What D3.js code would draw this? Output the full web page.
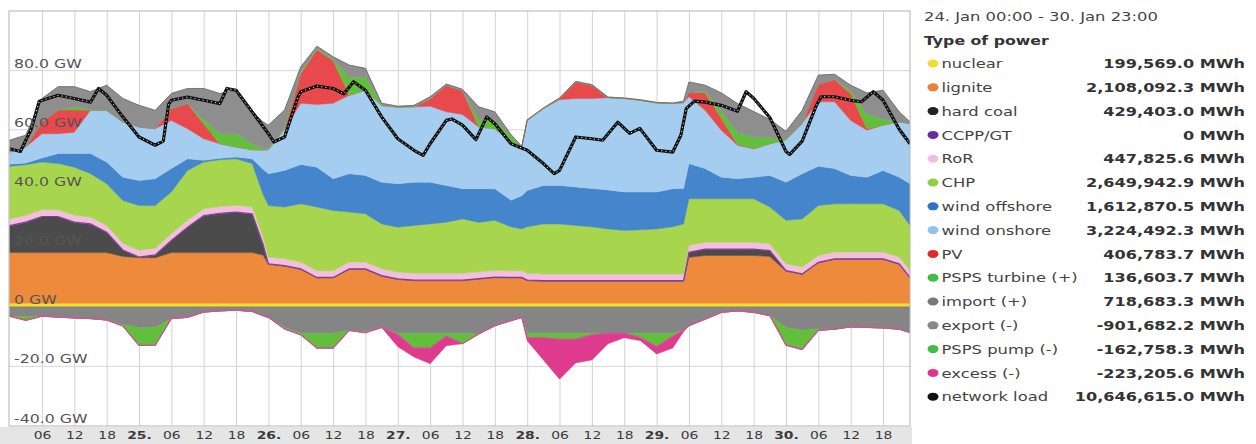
<!DOCTYPE html>
<html>
<head>
<meta charset="utf-8">
<script src="https://cdn.jsdelivr.net/npm/d3@7"></script>
<style>
  html, body { margin: 0; padding: 0; background: #fff; }
  svg { display: block; font-family: "DejaVu Sans", Verdana, sans-serif; }
</style>
</head>
<body>
<div id="chart"></div>
<script>
// hours since 24. Jan 00:00 (GW values)
const hours = [0,3,6,9,12,15,18,21,24,27,30,33,36,39,42,45,47,48,51,54,57,60,63,66,69,72,75,78,81,84,87,90,93,95,96,99,102,105,108,111,114,117,120,123,125,126,129,132,135,138,141,144,147,150,153,156,159,162,165,167];

const nuclear = [1.2,1.2,1.2,1.2,1.2,1.2,1.2,1.2,1.2,1.2,1.2,1.2,1.2,1.2,1.2,1.2,1.2,1.2,1.2,1.2,1.2,1.2,1.2,1.2,1.2,1.2,1.2,1.2,1.2,1.2,1.2,1.2,1.2,1.2,1.2,1.2,1.2,1.2,1.2,1.2,1.2,1.2,1.2,1.2,1.2,1.2,1.2,1.2,1.2,1.2,1.2,1.2,1.2,1.2,1.2,1.2,1.2,1.2,1.2,1.2];
const lignite = [17.1,17.1,17.1,17.1,17.1,17.1,17.1,15.8,15.4,15.4,17.1,17.1,17.1,17.1,17.1,17.1,16.3,13.1,12.5,11.4,8.5,8.5,11.4,11.4,9.1,8.0,7.6,7.6,7.6,7.6,8.1,8.6,8.5,8.5,7.6,7.4,7.4,7.4,7.4,7.4,7.4,7.4,7.4,7.4,7.4,15.5,16.1,16.1,16.1,16.1,15.8,10.8,9.7,13.6,14.8,14.8,14.8,14.8,13.1,8.5];
const hardCoal = [9.1,10.3,12.2,12.2,10.3,9.7,6.9,2.2,0.2,0.9,4.1,8.6,12.5,13.3,13.7,13.1,3.7,0.2,0.2,0.2,0.2,0.2,0.2,0.2,0.2,0.2,0.2,0.2,0.2,0.2,0.2,0.2,0.2,0.2,0.2,0.2,0.2,0.2,0.2,0.2,0.2,0.2,0.2,0.2,0.2,1.7,2.2,2.2,2.2,2.2,2.0,0.2,0.2,0.2,0.2,0.2,0.2,0.2,0.2,0.2];
const ccpp = [0,0,0,0,0,0,0,0,0,0,0,0,0,0,0,0,0,0,0,0,0,0,0,0,0,0,0,0,0,0,0,0,0,0,0,0,0,0,0,0,0,0,0,0,0,0,0,0,0,0,0,0,0,0,0,0,0,0,0,0];
const ror = [2.3,2.3,2.3,2.3,2.3,2.3,2.3,2.3,2.3,2.3,2.3,2.3,2.3,2.3,2.3,2.3,2.3,2.3,2.3,2.3,2.3,2.3,2.3,2.3,2.3,2.3,2.3,2.3,2.3,2.3,2.3,2.3,2.3,2.3,2.3,2.3,2.3,2.3,2.3,2.3,2.3,2.3,2.3,2.3,2.3,2.3,2.3,2.3,2.3,2.3,2.3,2.3,2.3,2.3,2.3,2.3,2.3,2.3,2.3,2.3];
const chp = [17.8,17.1,16.1,15.6,16.3,14.7,14.1,14.4,15.1,14.4,14.1,16.9,15.8,15.8,15.7,14.7,14.5,17.4,17.5,19.7,21.5,20.3,16.9,16.3,15.2,15.2,16.2,16.7,17.3,18.4,16.7,16.9,14.8,14.1,15.7,16.9,16.9,16.4,15.9,15.2,14.7,14.9,15.2,15.9,16.9,15.8,14.7,14.7,14.7,14.7,12.4,14.7,16.3,16.9,16.3,16.3,16.3,16.3,15.7,15.3];
const windOffshore = [0.7,0.6,1.4,3.4,4.6,6.8,7.3,7.9,8.5,9.1,7.9,3.9,0.6,0.5,0.6,1.6,8.5,10.8,12.4,13.3,13.5,10.8,13.0,13.0,14.1,14.7,14.6,14.1,12.4,10.2,11.4,10.7,9.0,11.2,12.3,13.0,13.0,13.0,13.0,13.2,13.0,12.8,12.5,12.9,12.0,11.9,10.2,7.3,6.8,7.3,10.7,12.9,15.3,13.3,11.9,9.6,9.0,11.3,11.3,14.1];
const windOnshore = [4.1,5.4,8.2,6.7,7.2,14.6,17.5,18.7,18.1,16.9,16.3,10.2,7.3,4.9,3.4,3.1,6.5,8.1,13.9,20.7,21.2,25.5,26.5,28.8,25.9,25.9,25.5,25.7,24.9,25.1,20.9,20.3,19.7,16.5,23.7,26.0,29.0,29.9,30.4,31.2,31.6,31.0,30.1,28.8,29.0,22.6,19.7,15.9,11.3,9.6,10.7,14.4,17.0,21.8,22.6,18.6,15.9,15.3,18.7,20.4];
const pv = [0,0,4,8,7.5,0,0,0,0,0,4,8.5,5,0,0,0,0,0,0,10,18.5,14.5,0,0,0,0,0,2.5,9,8,0,0,0,0,0,0,0.4,5.6,4.5,0,0,0,0,0,0,1.5,6,4,0.3,0,0,0,0,6,7.5,9,0.5,0,0,0];
const pspsTurbine = [0,0,0,0,1,0.3,0,0,0,0,0,0,1.5,3.4,4.5,2,0.5,0.3,0.5,0.5,0.3,0.5,6,4.5,0.2,0,0,0,0,0,2.5,3,2,0,0,0,0,0,0,0,0,0,0,0,0,0,0.5,2.5,4,4,2,0.3,0,0,0,1,5,2,0,0];
const importPlus = [4.0,4.0,7.9,7.9,6.9,6.0,8.5,7.9,7.3,6.2,5.1,5.1,10.5,13.6,14.7,10.8,9.0,8.0,6.0,1.8,0.9,0.7,4.2,2.9,0.6,0.3,0.5,0.7,0.4,0.5,4.3,2.7,0.5,0.2,0.2,0.2,0.2,0.2,0.2,0.2,0.2,0.2,0.2,0.2,0.5,3.5,2.0,6.1,9.8,8.6,6.2,2.5,4.4,3.0,1.8,1.9,7.1,9.8,3.4,0.5];
const exportMinus = [-3.2,-3.4,-3.2,-3.5,-3.8,-4,-4.5,-6,-7.1,-7.1,-4,-3.6,-1.8,-1.4,-1.2,-1.6,-3,-3.6,-7,-9,-9,-9,-8,-8.5,-7,-9,-9,-9,-9,-9,-9.2,-6.4,-4.7,-3.6,-9,-9,-9,-9,-9,-9,-9,-9,-9,-9,-8,-6.4,-4.2,-1.9,-1.4,-1.9,-3,-7,-8,-7.5,-7.6,-6.8,-7,-7.2,-7.6,-8.7];
const pspsPump = [0,-1.2,0,0,0,0,0,-0.5,-6,-6,0,0,0,0,0,0,0,0,-0.5,-0.5,-5,-5,0,-0.3,0,-0.5,-5,-5,-1,-3.5,0,0,0,0,-1.5,-1.5,-2,-2,-0.5,0,0,-1.5,-4.5,-1,0,0,0,0,0,0,0,-6,-6.5,-0.5,0,0,0,0,0,0];
const excess = [0,0,0,0,0,0,0,0,0,0,0,0,0,0,0,0,0,0,0,0,0,0,0,0,0,-4,-3,-5.3,-3.2,0,0,0,0,0,-1,-7.5,-13.5,-8,-8.5,-3.5,-1.5,-1,-2.5,-4,-0.5,0,0,0,0,0,0,0,0,0,0,0,0,0,0,0];

// network load (own time points, hours since 24. Jan 00:00)
const loadHours = [0,2,4,5.5,9,12,15,16.5,18,21,24,27,28.5,29.5,30,33,36,39,40.3,42,45,48,49,51,53.5,54,57,60,62,63.8,66,69,72,75,76.7,78,81,82,84,86.5,88.5,90,93,96,99,101,102,105,108,110,112.8,115,116.9,120,123,124.5,125.5,127,129,132,135,136.6,138,141,144,144.7,147,149.5,150.5,153,156,158,160.2,162,165,167];
const loadValues = [53.4,52.5,60,69.5,71.5,70.4,69.2,73.8,71.5,64.2,57.4,54.6,56,68.5,69.8,70.9,69.8,68.7,73.8,73.2,65.9,58.5,55.7,57.4,71,72.7,74.6,73.8,72,76.1,73.2,64.2,56.8,52.9,51.2,55.1,63,63.5,61.4,56.5,64.2,61.9,55.1,52.9,48.4,45,46.1,57.4,56.8,56.3,62.4,58.6,60.3,52.9,52.3,58,67,69.5,69.2,68.1,66.1,72.7,70.5,64,52.5,51.5,56,67.5,71,71,69.8,69.3,72.7,69.8,60,55.1];

// y axis ticks
const yTicks = [-40, -20, 0, 20, 40, 60, 80];
// x axis ticks, every 6 hours
const xTicks = [6,12,18,24,30,36,42,48,54,60,66,72,78,84,90,96,102,108,114,120,126,132,138,144,150,156,162];
const xTickLabels = ["06","12","18","25.","06","12","18","26.","06","12","18","27.","06","12","18","28.","06","12","18","29.","06","12","18","30.","06","12","18"];

// legend
const legendTitle = "24. Jan 00:00 - 30. Jan 23:00";
const legendNames = ["nuclear","lignite","hard coal","CCPP/GT","RoR","CHP","wind offshore","wind onshore","PV","PSPS turbine (+)","import (+)","export (-)","PSPS pump (-)","excess (-)","network load"];
const legendTotals = ["199,569.0 MWh","2,108,092.3 MWh","429,403.0 MWh","0 MWh","447,825.6 MWh","2,649,942.9 MWh","1,612,870.5 MWh","3,224,492.3 MWh","406,783.7 MWh","136,603.7 MWh","718,683.3 MWh","-901,682.2 MWh","-162,758.3 MWh","-223,205.6 MWh","10,646,615.0 MWh"];
const legendColors = ["#f0df2a","#ee7f3a","#222222","#6a2aa0","#f0bfe0","#8fd040","#2f72c8","#8fc4ee","#e02a2a","#44bb44","#777777","#888888","#44bb44","#e0338a","#111111"];

const posKeys = ["nuclear","lignite","hardCoal","ccpp","ror","chp","windOffshore","windOnshore","pv","pspsTurbine","importPlus"];
const negKeys = ["exportMinus","pspsPump","excess"];
const colors = {
  nuclear: "#f2e21a", lignite: "#ee8a3c", hardCoal: "#4b4b4b", ccpp: "#7a30a5",
  ror: "#f2c0dc", chp: "#a7d64e", windOffshore: "#4585cc", windOnshore: "#a4cdf0",
  pv: "#e8494d", pspsTurbine: "#62bf3c", importPlus: "#8e8e8e",
  exportMinus: "#858585", pspsPump: "#62bf3c", excess: "#de3b8f"
};

const W = 1256, H = 444;
const SX = 1.26; // the picture is stretched horizontally

const table = hours.map((h, i) => ({
  hour: h, nuclear: nuclear[i], lignite: lignite[i], hardCoal: hardCoal[i], ccpp: ccpp[i],
  ror: ror[i], chp: chp[i], windOffshore: windOffshore[i], windOnshore: windOnshore[i],
  pv: pv[i], pspsTurbine: pspsTurbine[i], importPlus: importPlus[i],
  exportMinus: exportMinus[i], pspsPump: pspsPump[i], excess: excess[i]
}));

const x = d3.scaleLinear().domain([0, 167]).range([9.6, 910]);
const y = d3.scaleLinear().domain([-40, 100]).range([425, 11]);

const svg = d3.select("#chart").append("svg")
  .attr("width", W).attr("height", H);

const plotL = 9, plotR = 910, plotT = y(100), plotB = 426;

svg.append("defs").append("clipPath").attr("id", "plotclip")
  .append("rect").attr("x", plotL).attr("y", plotT)
  .attr("width", plotR - plotL).attr("height", plotB - plotT);

// x axis band
svg.append("rect").attr("x", 0).attr("y", 427).attr("width", 912).attr("height", 17)
  .attr("fill", "#e5e5e5");

// grid
svg.append("g")
  .attr("transform", `translate(0,${plotB})`)
  .call(d3.axisBottom(x).tickValues(xTicks).tickSize(-(plotB - plotT)).tickFormat(""))
  .call(g => g.select(".domain").remove())
  .call(g => g.selectAll("line").attr("stroke", "#d2d2d2"));

svg.append("g")
  .attr("transform", `translate(${plotL},0)`)
  .call(d3.axisLeft(y).tickValues([-20, 0, 20, 40, 60, 80]).tickSize(-(plotR - plotL)).tickFormat(""))
  .call(g => g.select(".domain").remove())
  .call(g => g.selectAll("line").attr("stroke", "#d6d6d6"));

// stacked areas
const posStack = d3.stack().keys(posKeys)(table);
const negStack = d3.stack().keys(negKeys)(table);

const area = d3.area()
  .x(d => x(d.data.hour))
  .y0(d => y(d[0]))
  .y1(d => y(d[1]));

const plot = svg.append("g").attr("clip-path", "url(#plotclip)");

plot.selectAll("path.layer")
  .data(posStack.concat(negStack))
  .enter()
  .append("path")
  .attr("class", "layer")
  .attr("d", area)
  .attr("fill", d => colors[d.key])
  .attr("stroke", d => colors[d.key])
  .attr("stroke-width", 0.5);

const edge = accessor => d3.line().x(d => x(d.data.hour)).y(accessor);

// CCPP/GT has no output: only its purple edge shows
const ccppLayer = posStack.find(s => s.key === "ccpp");
plot.append("path").attr("d", edge(d => y(d[1]))(ccppLayer))
  .attr("fill", "none").attr("stroke", "#8a3a9e").attr("stroke-width", 1.2);

const topLayer = posStack[posStack.length - 1];
plot.append("path").attr("d", edge(d => y(d[1]))(topLayer))
  .attr("fill", "none").attr("stroke", "#6a6a6a").attr("stroke-width", 0.8);

const bottomLayer = negStack[negStack.length - 1];
plot.append("path").attr("d", edge(d => y(d[0]))(bottomLayer))
  .attr("fill", "none").attr("stroke", "#d5509a").attr("stroke-width", 1.2);

// network load
const loadData = loadHours.map((h, i) => ({ hour: h, value: loadValues[i] }));
const loadLine = d3.line().x(d => x(d.hour)).y(d => y(d.value));
plot.append("path").attr("d", loadLine(loadData))
  .attr("fill", "none").attr("stroke", "#111").attr("stroke-width", 3.2)
  .attr("stroke-linejoin", "round");
plot.append("path").attr("d", loadLine(loadData))
  .attr("fill", "none").attr("stroke", "#fff").attr("stroke-width", 0.9)
  .attr("stroke-dasharray", "1.2,3");

// frame
svg.append("rect").attr("x", plotL).attr("y", plotT)
  .attr("width", plotR - plotL).attr("height", plotB - plotT)
  .attr("fill", "none").attr("stroke", "#b4b4b4");

// y labels inside the plot
svg.append("g")
  .attr("transform", "translate(14,0)")
  .call(d3.axisRight(y).tickValues(yTicks).tickSize(0).tickPadding(0)
    .tickFormat(v => v === 0 ? "0 GW" : v.toFixed(1) + " GW"))
  .call(g => g.select(".domain").remove())
  .call(g => g.selectAll("text")
    .attr("dy", -3)
    .attr("transform", `scale(${SX},1)`)
    .attr("fill", "#555")
    .style("font-size", "12.5px")
    .style("font-family", "'DejaVu Sans', Verdana, sans-serif"));

// x labels
svg.append("g")
  .attr("transform", "translate(0,430)")
  .call(d3.axisBottom(x).tickValues(xTicks).tickSize(0).tickPadding(0)
    .tickFormat((v, i) => xTickLabels[i]))
  .call(g => g.select(".domain").remove())
  .call(g => g.selectAll("text")
    .attr("dy", "0.8em")
    .attr("transform", `scale(${SX},1)`)
    .attr("fill", "#3a3a3a")
    .style("font-size", "11px")
    .style("font-weight", (v, i) => xTickLabels[i].endsWith(".") ? "bold" : "normal")
    .style("font-family", "'DejaVu Sans', Verdana, sans-serif"));

// legend
const legend = svg.append("g");
legend.append("text")
  .attr("transform", `translate(924,21) scale(${SX},1)`)
  .attr("fill", "#444").style("font-size", "13px")
  .text(legendTitle);
legend.append("text")
  .attr("transform", `translate(924,45) scale(${SX},1)`)
  .attr("fill", "#333").style("font-size", "12.5px").style("font-weight", "bold")
  .text("Type of power");

const rows = legend.selectAll("g.row")
  .data(legendNames)
  .enter()
  .append("g")
  .attr("class", "row")
  .attr("transform", (d, i) => `translate(0,${63.5 + i * 23.8})`);

rows.append("ellipse")
  .attr("cx", 933).attr("cy", 0).attr("rx", 5.5).attr("ry", 4)
  .attr("fill", (d, i) => legendColors[i]);

rows.append("text")
  .attr("transform", `translate(941.5,4.6) scale(${SX},1)`)
  .attr("fill", "#444").style("font-size", "13px")
  .text(d => d);

rows.append("text")
  .attr("transform", `translate(1245,4.6) scale(${SX},1)`)
  .attr("text-anchor", "end")
  .attr("fill", "#333").style("font-size", "12.8px").style("font-weight", "bold")
  .text((d, i) => legendTotals[i]);
</script>
</body>
</html>
